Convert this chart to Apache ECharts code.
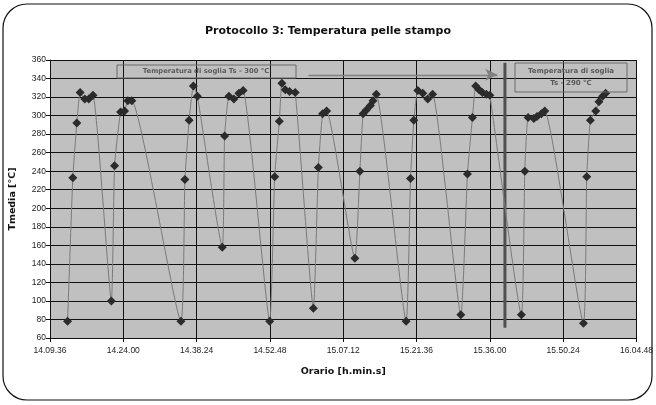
<!DOCTYPE html>
<html>
<head>
<meta charset="utf-8">
<script src="https://cdn.jsdelivr.net/npm/echarts@6/dist/echarts.min.js"></script>
<style>
html,body{margin:0;padding:0;background:#fff;}
#chart{width:656px;height:405px;}
</style>
</head>
<body>
<div id="chart"></div>
<script>
// Sample times (h.min.s) and temperatures (°C)
var times = [
  "14.13.03","14.14.05","14.14.52","14.15.31","14.16.26","14.17.13","14.18.03",
  "14.21.39","14.22.17","14.23.28","14.24.15","14.24.53","14.25.40",
  "14.35.19","14.36.06","14.36.56","14.37.46","14.38.33",
  "14.43.26","14.43.54","14.44.45","14.45.43","14.46.42","14.47.32",
  "14.52.45","14.53.44","14.54.39","14.55.09","14.55.49","14.56.39","14.57.46",
  "15.01.20","15.02.19","15.03.09","15.03.56",
  "15.09.29","15.10.28","15.11.06","15.11.45","15.12.32","15.13.03","15.13.42",
  "15.19.33","15.20.25","15.21.04","15.21.51","15.22.49","15.23.48","15.24.46",
  "15.30.18","15.31.36","15.32.35","15.33.13","15.33.53","15.34.32","15.35.19","15.36.00",
  "15.42.12","15.42.52","15.43.31","15.44.38","15.45.16","15.46.07","15.46.47",
  "15.54.23","15.55.02","15.55.45","15.56.48","15.57.26","15.58.09","15.58.45"
];
var temps = [
  78,233,292,325,318,318,322,
  100,246,304,305,316,316,
  78,231,295,332,321,
  158,278,321,318,324,327,
  78,234,294,335,328,326,325,
  92,244,302,305,
  146,240,302,306,311,316,323,
  78,232,295,327,324,318,323,
  85,237,298,332,328,325,323,322,
  85,240,298,297,299,302,305,
  76,234,295,305,315,321,324
];
// Threshold change marker (vertical bar) and arrow
var changeTime = "15.38.58";
var changeRange = [71, 357];
var arrowTimes = ["15.00.22", "15.37.28"];
var arrowTemp = 344;
// Axis settings
var xMinTime = "14.09.36", xMaxTime = "16.04.48", xStepSec = 864;
var yMin = 60, yMax = 360, yStep = 20;

function toSec(s){var p=s.split('.');return (+p[0])*3600+(+p[1])*60+(+p[2]);}
function pad(n){return (n<10?'0':'')+n;}
function fmt(v){v=Math.round(v);var h=Math.floor(v/3600),m=Math.floor((v%3600)/60),s=v%60;return h+'.'+pad(m)+'.'+pad(s);}

var data = times.map(function(t,i){return [toSec(t), temps[i]];});
var ct = toSec(changeTime);

var chart = echarts.init(document.getElementById('chart'));
var axisFont = {fontFamily:'Liberation Sans, Arial, sans-serif', fontSize:8.5, color:'#222'};
chart.setOption({
  animation:false,
  backgroundColor:'#fff',
  title:{
    text:'Protocollo 3: Temperatura pelle stampo',
    left:'center', top:21,
    textStyle:{fontFamily:'DejaVu Sans', fontWeight:'bold', fontSize:11, color:'#111'}
  },
  grid:{left:50, right:16, top:60, bottom:67, show:true, backgroundColor:'#c0c0c0', borderWidth:0},
  xAxis:{
    type:'value', min:toSec(xMinTime), max:toSec(xMaxTime), interval:xStepSec,
    name:'Orario [h.min.s]', nameLocation:'middle', nameGap:29,
    nameTextStyle:{fontFamily:'DejaVu Sans', fontWeight:'bold', fontSize:9.5, color:'#111'},
    axisLine:{onZero:false, lineStyle:{color:'#111', width:1}},
    axisTick:{show:true, length:4, lineStyle:{color:'#111'}},
    axisLabel:Object.assign({margin:8, formatter:fmt, showMinLabel:true, showMaxLabel:true}, axisFont),
    splitLine:{show:true, lineStyle:{color:'#111', width:1}}
  },
  yAxis:{
    type:'value', min:yMin, max:yMax, interval:yStep,
    name:'Tmedia [°C]', nameLocation:'middle', nameGap:32, nameRotate:90,
    nameTextStyle:{fontFamily:'DejaVu Sans', fontWeight:'bold', fontSize:9.5, color:'#111'},
    axisLine:{show:true, lineStyle:{color:'#111', width:1}},
    axisTick:{show:true, length:4, lineStyle:{color:'#111'}},
    axisLabel:Object.assign({margin:4}, axisFont),
    splitLine:{show:true, lineStyle:{color:'#111', width:1}}
  },
  series:[
    {
      type:'line', data:data, smooth:0.15,
      symbol:'diamond', symbolSize:9,
      lineStyle:{color:'#7a7a7a', width:1},
      itemStyle:{color:'#2b2b2b'},
      z:3,
      markLine:{
        silent:true, symbol:['none','arrow'], symbolSize:[9,12],
        label:{show:false},
        lineStyle:{color:'#808080', width:1.3, type:'solid', opacity:1},
        emphasis:{disabled:true},
        data:[[{coord:[toSec(arrowTimes[0]), arrowTemp]},{coord:[toSec(arrowTimes[1]), arrowTemp]}]]
      }
    },
    {
      type:'line', data:[[ct, changeRange[0]],[ct, changeRange[1]]],
      symbol:'none', lineStyle:{color:'#505050', width:3}, z:2
    }
  ],
  graphic:[
    {type:'rect', shape:{x:3, y:4, width:649, height:396, r:24}, style:{fill:null, stroke:'#111', lineWidth:1.2}, z:-1, silent:true},
    {type:'rect', shape:{x:117, y:65, width:179, height:13}, style:{fill:null, stroke:'#6a6a6a', lineWidth:1}, z:10},
    {type:'text', x:206, y:71.5, style:{text:'Temperatura di soglia Ts - 300 °C', fontFamily:'DejaVu Sans', fontWeight:'bold', fontSize:6.8, fill:'#5a5a5a', align:'center', verticalAlign:'middle'}, z:10},
    {type:'rect', shape:{x:515, y:63, width:112, height:29}, style:{fill:null, stroke:'#6a6a6a', lineWidth:1}, z:10},
    {type:'text', x:571, y:71.5, style:{text:'Temperatura di soglia', fontFamily:'DejaVu Sans', fontWeight:'bold', fontSize:7, fill:'#5a5a5a', align:'center', verticalAlign:'middle'}, z:10},
    {type:'text', x:571, y:83.5, style:{text:'Ts - 290 °C', fontFamily:'DejaVu Sans', fontWeight:'bold', fontSize:7, fill:'#5a5a5a', align:'center', verticalAlign:'middle'}, z:10}
  ]
});
</script>
</body>
</html>
